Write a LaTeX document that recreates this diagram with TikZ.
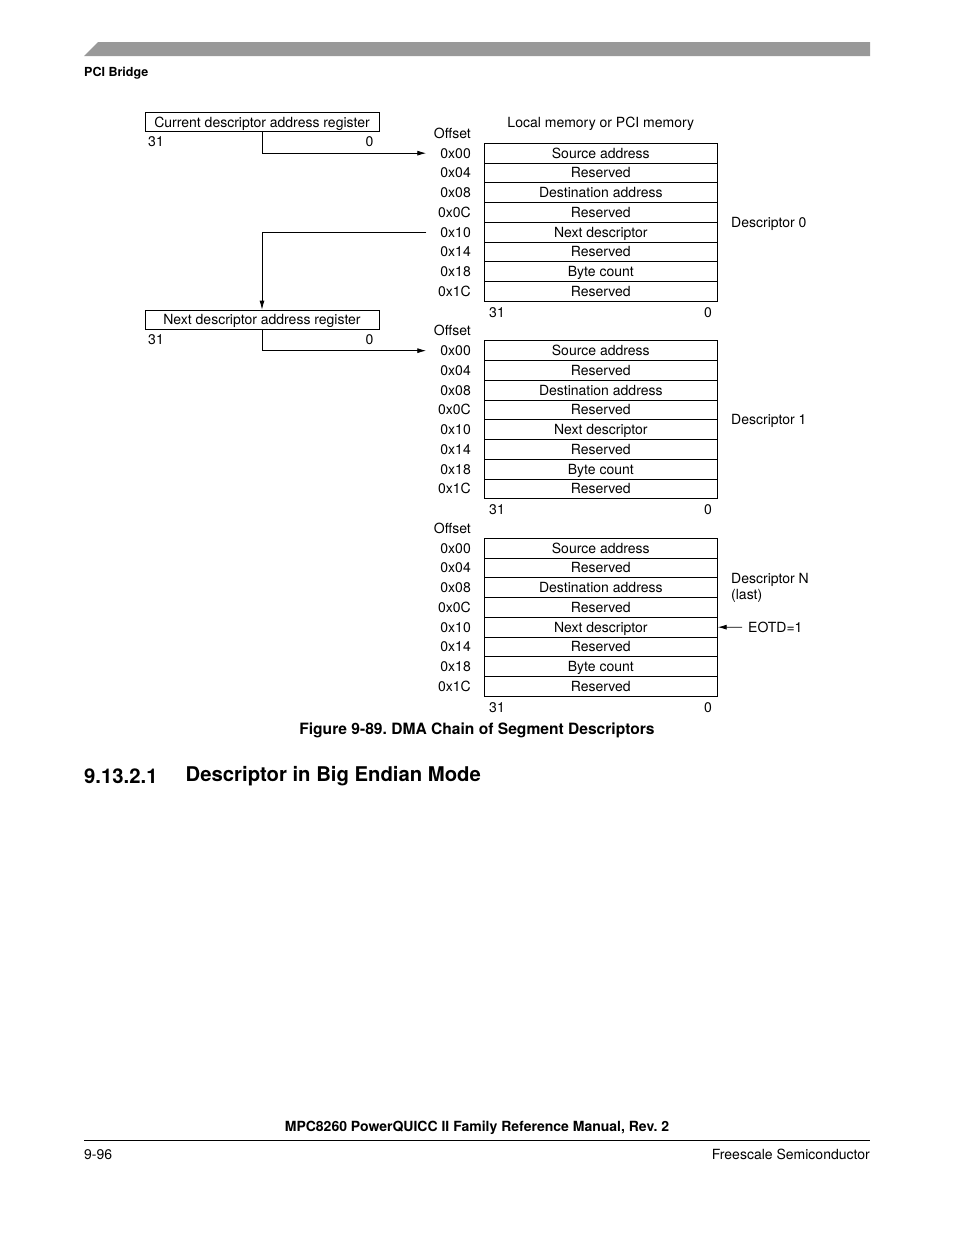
\documentclass[tikz,border=0pt]{standalone}
\usepackage{fontspec}
\setmainfont{TeX Gyre Heros}
\usepackage{xcolor}
\usepackage{tikz}
\usetikzlibrary{arrows.meta,positioning,calc}
\definecolor{barfill}{HTML}{999999}
\frenchspacing

\begin{document}
\begin{tikzpicture}[
  x=1pt, y=-1pt,
  font=\fontsize{14}{16}\selectfont,
  lbl/.style={inner sep=0pt, text height=10pt, text depth=0pt},
  reg/.style={lbl, draw, line width=0.8pt, minimum width=234pt, minimum height=19pt},
  cell/.style={lbl, draw, line width=0.8pt, minimum width=233pt, minimum height=19.75pt},
  arr/.style={-{Latex[length=9pt,width=5pt]}, line width=0.8pt},
  head/.style={inner sep=0pt, anchor=west, font=\bfseries\fontsize{20.3}{24}\selectfont}
]
  \fill[white] (0,0) rectangle (954,1235);
  \useasboundingbox (0,0) rectangle (954,1235);

  \fill[barfill] (98,42) -- (870,42) -- (870,56) -- (84,56) -- cycle;
  \node[lbl, anchor=west, font=\bfseries\fontsize{12.5}{14}\selectfont] (chap) at (84,71) {PCI Bridge};

  \node[reg] (cur) at (262,122) {Current descriptor address register};
  \node[lbl] (cur31) at (156,141.5) {31};
  \node[lbl] (cur0) at (369.5,141.5) {0};

  \node[reg] (nxt) at (262,319.5) {Next descriptor address register};
  \node[lbl] (nxt31) at (156,339) {31};
  \node[lbl] (nxt0) at (369.5,339) {0};

  \node[lbl] (memtitle) at (600.8,122.5) {Local memory or PCI memory};

  \foreach \d/\top in {0/143.3, 1/340.8, 2/538.3} {
    \foreach \txt/\ofs [count=\i from 0] in {Source address/0x00, Reserved/0x04,
        Destination address/0x08, Reserved/0x0C, Next descriptor/0x10,
        Reserved/0x14, Byte count/0x18, Reserved/0x1C} {
      \node[cell] (mem\d-\i) at (600.8,{\top+9.875+19.75*\i}) {\txt};
      \node[lbl, anchor=east] (off\d-\i) at (471,{\top+9.875+19.75*\i}) {\ofs};
    }
    \node[lbl, anchor=east] (offset\d) at (471,{\top-9.9}) {Offset};
    \node[lbl] (msb\d) at (497,{\top+168.7}) {31};
    \node[lbl] (lsb\d) at (708,{\top+168.7}) {0};
  }

  \node[lbl, anchor=west] (desc0) at (731,222.3) {Descriptor 0};
  \node[lbl, anchor=west] (desc1) at (731,419.8) {Descriptor 1};
  \node[inner sep=0pt, anchor=west, align=left] (descN) at (731,588) {Descriptor N\\(last)};
  \node[lbl, anchor=west] (eotd) at (748,627.2) {EOTD=1};

  \draw[arr] (cur.south) |- ([xshift=-14pt]off0-0.west);
  \draw[arr] ([xshift=-14pt]off0-4.west) -| (nxt.north);
  \draw[arr] (nxt.south) |- ([xshift=-14pt]off1-0.west);
  \draw[arr] ([xshift=-6pt]eotd.west) -- (mem2-4.east);

  \node[font=\bfseries\fontsize{15.6}{18}\selectfont] (caption) at (477,730) {Figure 9-89. DMA Chain of Segment Descriptors};
  \node[head] (secnum) at (84,776) {9.13.2.1};
  \node[head] (sectitle) at (185.5,776) {Descriptor in Big Endian Mode};

  \node[font=\bfseries\fontsize{14}{16}\selectfont] (manual) at (477,1128) {MPC8260 PowerQUICC II Family Reference Manual, Rev. 2};
  \draw[line width=1pt] (84,1140) -- (870,1140);
  \node[lbl, anchor=west] (page) at (84,1154) {9-96};
  \node[lbl, anchor=east] (vendor) at (870,1154) {Freescale Semiconductor};
\end{tikzpicture}
\end{document}
